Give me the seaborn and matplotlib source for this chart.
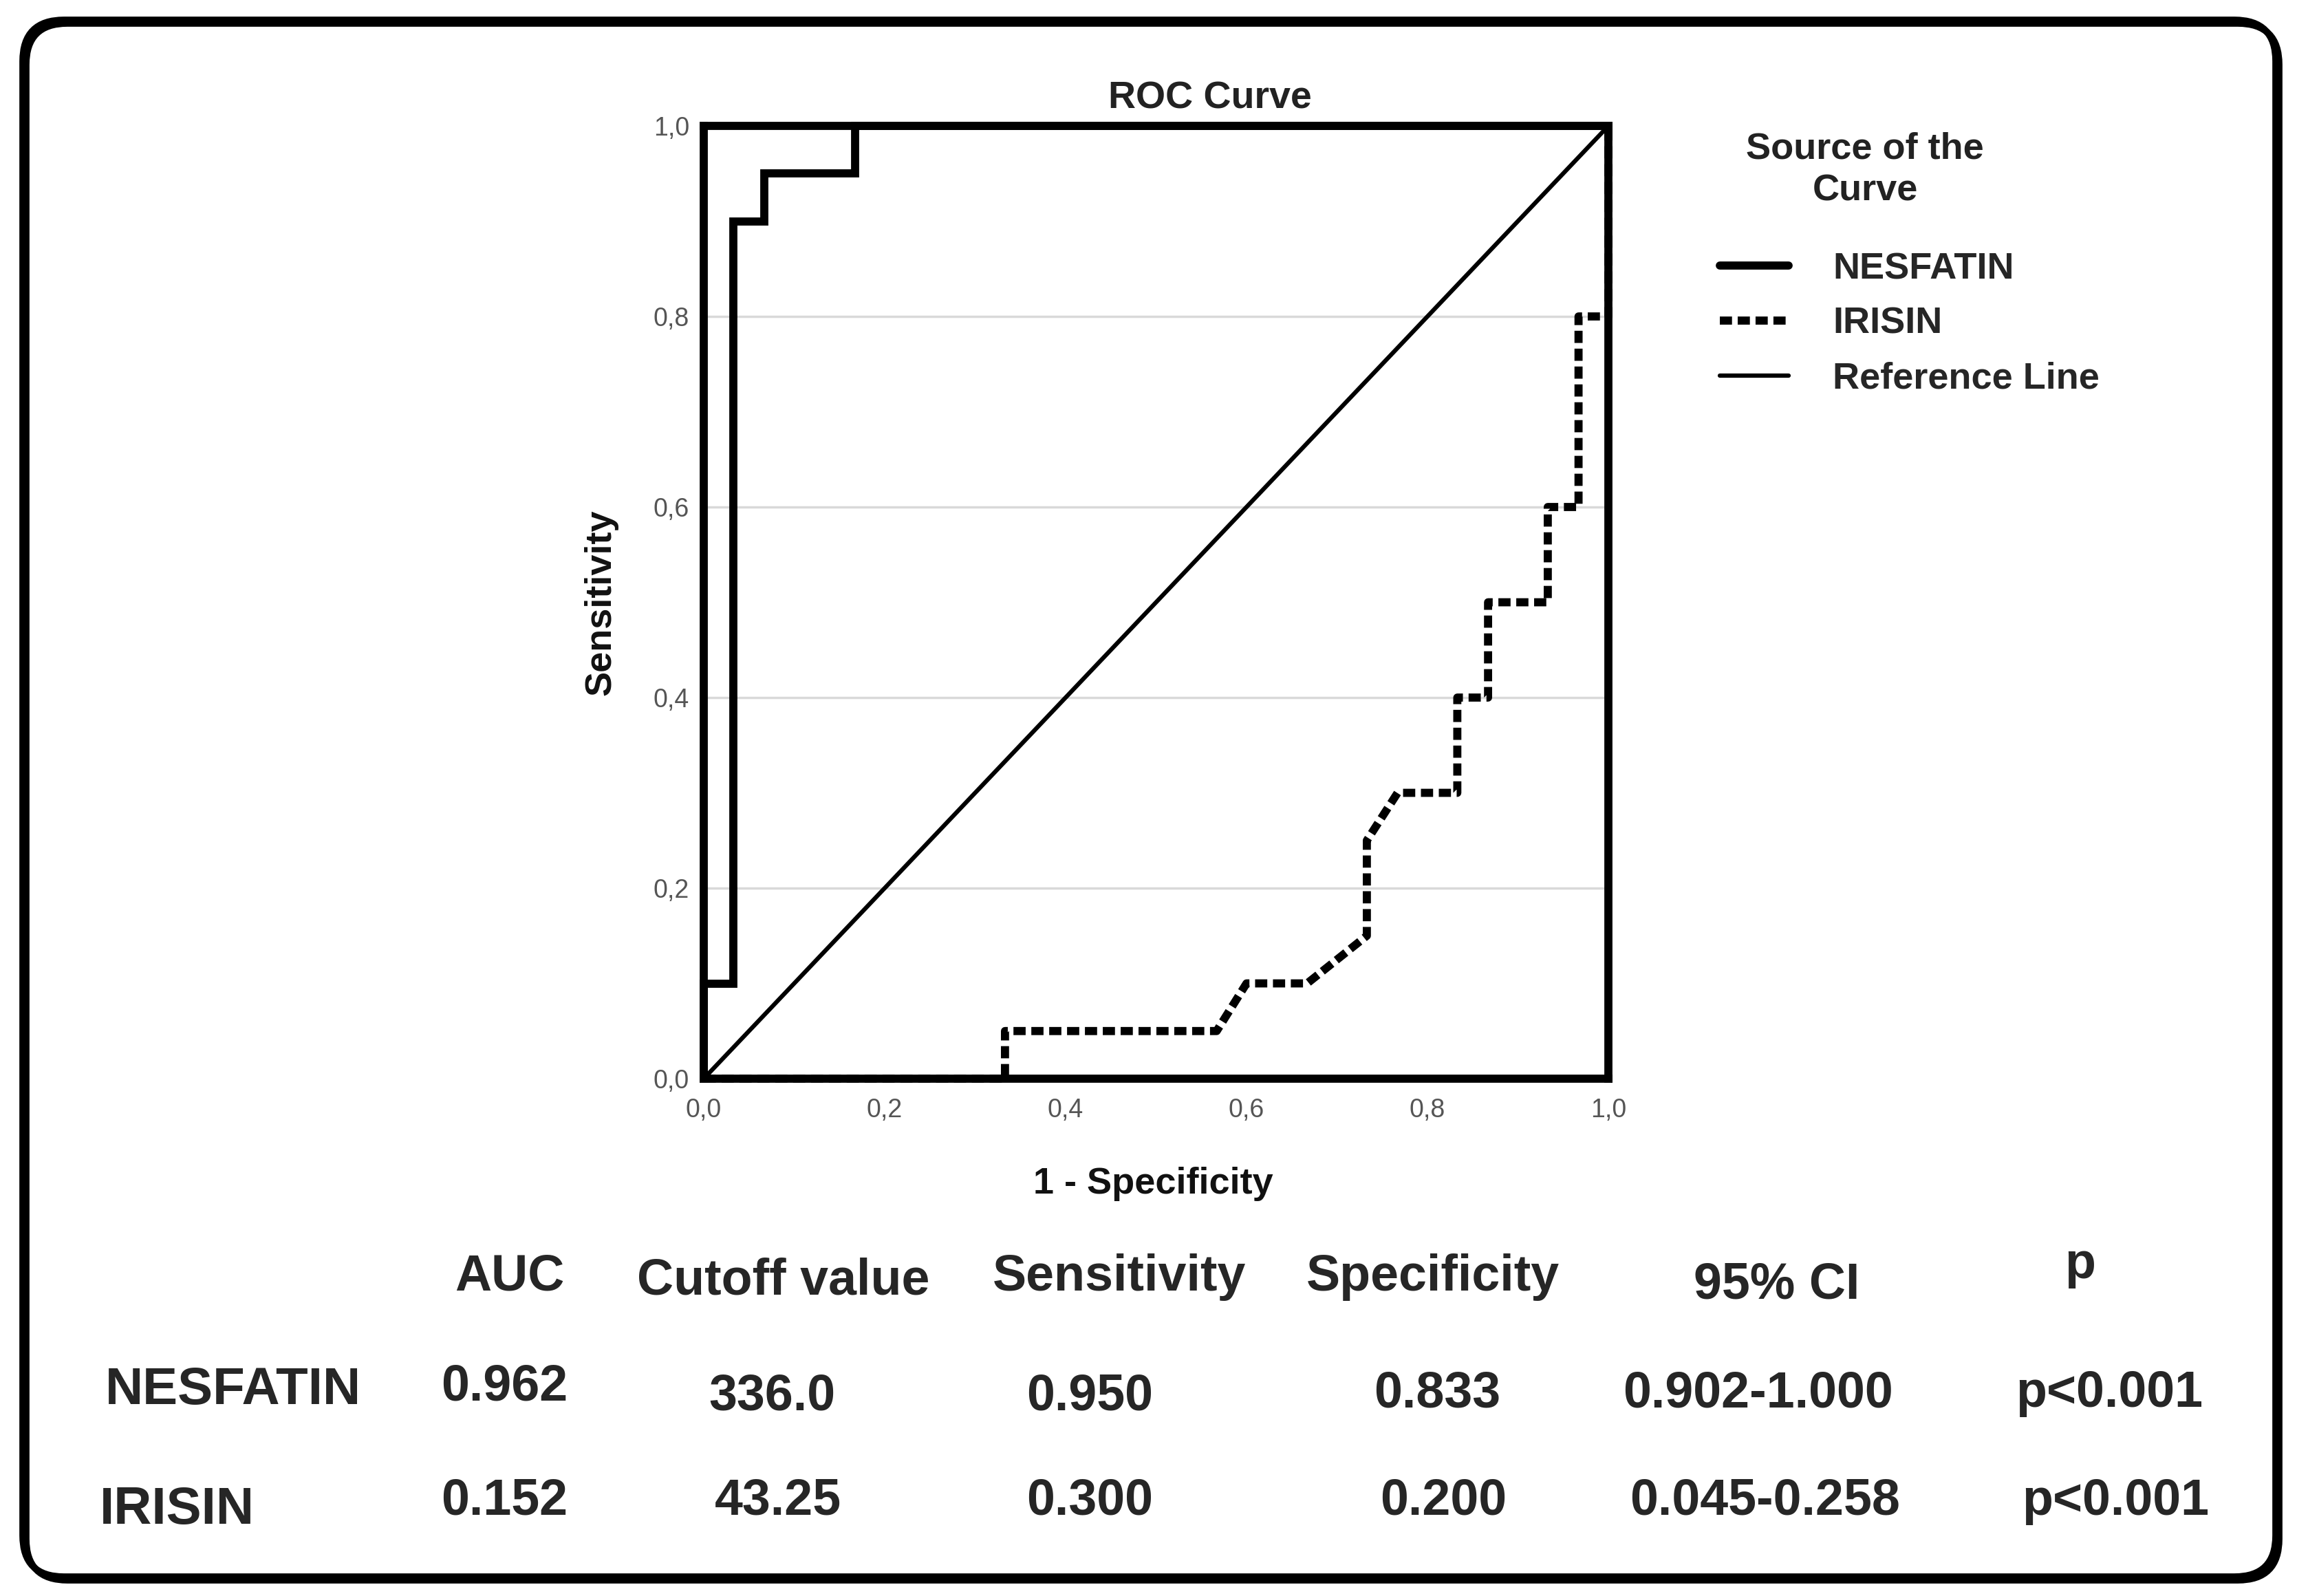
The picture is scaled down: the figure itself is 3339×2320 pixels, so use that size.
import matplotlib
matplotlib.use("Agg")
import numpy as np
import pandas as pd
import matplotlib.pyplot as plt
import seaborn as sns
from matplotlib.patches import FancyBboxPatch
from matplotlib.transforms import IdentityTransform

# ---- data ----
nesfatin_fpr = [0, 0, 0.033, 0.033, 0.067, 0.067, 0.167, 0.167, 1.0]
nesfatin_tpr = [0, 0.1, 0.1, 0.9, 0.9, 0.95, 0.95, 1.0, 1.0]

irisin_fpr = [0, 0.333, 0.333, 0.567, 0.6, 0.667, 0.733, 0.733, 0.767, 0.833,
              0.833, 0.867, 0.867, 0.933, 0.933, 0.967, 0.967, 1.0, 1.0]
irisin_tpr = [0, 0, 0.05, 0.05, 0.1, 0.1, 0.15, 0.25, 0.3, 0.3,
              0.4, 0.4, 0.5, 0.5, 0.6, 0.6, 0.8, 0.8, 1.0]

ref_x = [0, 1]
ref_y = [0, 1]

ticks = [0.0, 0.2, 0.4, 0.6, 0.8, 1.0]
tick_labels = ["0,0", "0,2", "0,4", "0,6", "0,8", "1,0"]
curve_names = ["NESFATIN", "IRISIN", "Reference Line"]

headers = ["AUC", "Cutoff value", "Sensitivity", "Specificity", "95% CI", "p"]
row_names = ["NESFATIN", "IRISIN"]
nesfatin_stats = ["0.962", "336.0", "0.950", "0.833", "0.902-1.000", "p<0.001"]
irisin_stats = ["0.152", "43.25", "0.300", "0.200", "0.045-0.258", "p<0.001"]

# ---- layout (pixels, image coords from top-left) ----
W, H = 3339, 2320
header_x = [741, 1139, 1627, 2083, 2583, 3024]
header_y = [1876, 1882, 1876, 1876, 1888, 1858]
value_x = [[733, 1122, 1584, 2089, 2555, 3066],
           [733, 1131, 1584, 2098, 2566, 3075]]
value_y = [[2036, 2049, 2049, 2045, 2045, 2045],
           [2202, 2202, 2202, 2202, 2202, 2202]]
label_left = [153, 145]
label_y = [2041, 2215]

sns.set_style("white")
plt.rcParams["font.family"] = ["Liberation Sans", "DejaVu Sans"]

fig = plt.figure(figsize=(W / 100, H / 100), dpi=100)
ax = fig.add_axes([1023 / W, 1 - 1568 / H, (2338 - 1023) / W, (1568 - 183) / H])

sns.lineplot(x=nesfatin_fpr, y=nesfatin_tpr, sort=False, estimator=None, ax=ax,
             color="black", linewidth=8.5, solid_joinstyle="miter",
             clip_on=False, label=curve_names[0], zorder=3)
sns.lineplot(x=irisin_fpr, y=irisin_tpr, sort=False, estimator=None, ax=ax,
             color="black", linewidth=8.5, linestyle=(0, (1.5, 0.7)),
             dash_capstyle="butt", clip_on=False, label=curve_names[1], zorder=3)
sns.lineplot(x=ref_x, y=ref_y, sort=False, estimator=None, ax=ax,
             color="black", linewidth=4.5, label=curve_names[2], zorder=3)

ax.set_xlim(0, 1)
ax.set_ylim(0, 1)
ax.set_xticks(ticks)
ax.set_xticklabels(tick_labels)
ax.set_yticks(ticks)
ax.set_yticklabels(tick_labels)
ax.tick_params(length=0, labelsize=27, labelcolor="#555555")
ax.tick_params(axis="x", pad=20)
ax.tick_params(axis="y", pad=15)
ax.yaxis.grid(True, color="#d9d9d9", linewidth=2.5)
ax.xaxis.grid(False)
ax.set_axisbelow(True)
for sp in ax.spines.values():
    sp.set_visible(True)
    sp.set_color("black")
    sp.set_linewidth(8.5)
    sp.set_zorder(4)

ax.set_xlabel("1 - Specificity", fontsize=39, fontweight="bold", va="center", color="#111111")
ax.xaxis.set_label_coords((1676 - 1023) / 1315, (1568 - 1721) / 1385)
ax.set_ylabel("Sensitivity", fontsize=39, fontweight="bold", va="center", color="#111111")
ax.yaxis.set_label_coords((873 - 1023) / 1315, 0.5)
ax.set_title("ROC Curve", fontsize=40, fontweight="bold", color="#222222",
             x=(1759 - 1023) / 1315, y=(1568 - 143) / 1385, va="center", pad=0)

# legend
handles, labels = ax.get_legend_handles_labels()
ax.legend_.remove()
fig.legend(handles, labels, loc="upper left",
           bbox_to_anchor=(2500 / W, 1 - 366 / H), frameon=False,
           borderpad=0, borderaxespad=0, handlelength=1.84, handletextpad=1.19,
           labelspacing=0.55, prop={"size": 39, "weight": "bold"})
fig.text(2711 / W, 1 - 247 / H, "Source of the\nCurve", ha="center", va="center",
         fontsize=39, fontweight="bold", linespacing=1.3, color="#222222")

# table
for i, h in enumerate(headers):
    fig.text(header_x[i] / W, 1 - header_y[i] / H, h, ha="center", va="baseline",
             fontsize=53, fontweight="bold")
for r, stats in enumerate([nesfatin_stats, irisin_stats]):
    fig.text(label_left[r] / W, 1 - label_y[r] / H, row_names[r], ha="left",
             va="baseline", fontsize=55, fontweight="bold")
    for c, val in enumerate(stats):
        fig.text(value_x[r][c] / W, 1 - value_y[r][c] / H, val, ha="center",
                 va="baseline", fontsize=53, fontweight="bold")

# rounded outer frame (pixel coords, origin bottom-left)
for off in (0, 5):
    frame = FancyBboxPatch((33 + off, H - 2292 - off), 3308 - 33, 2292 - 29,
                           boxstyle="round,pad=0,rounding_size=60",
                           transform=IdentityTransform(), fill=False,
                           edgecolor="black", linewidth=7, zorder=0)
    fig.patches.append(frame)

fig.savefig("out.png", dpi=100)
